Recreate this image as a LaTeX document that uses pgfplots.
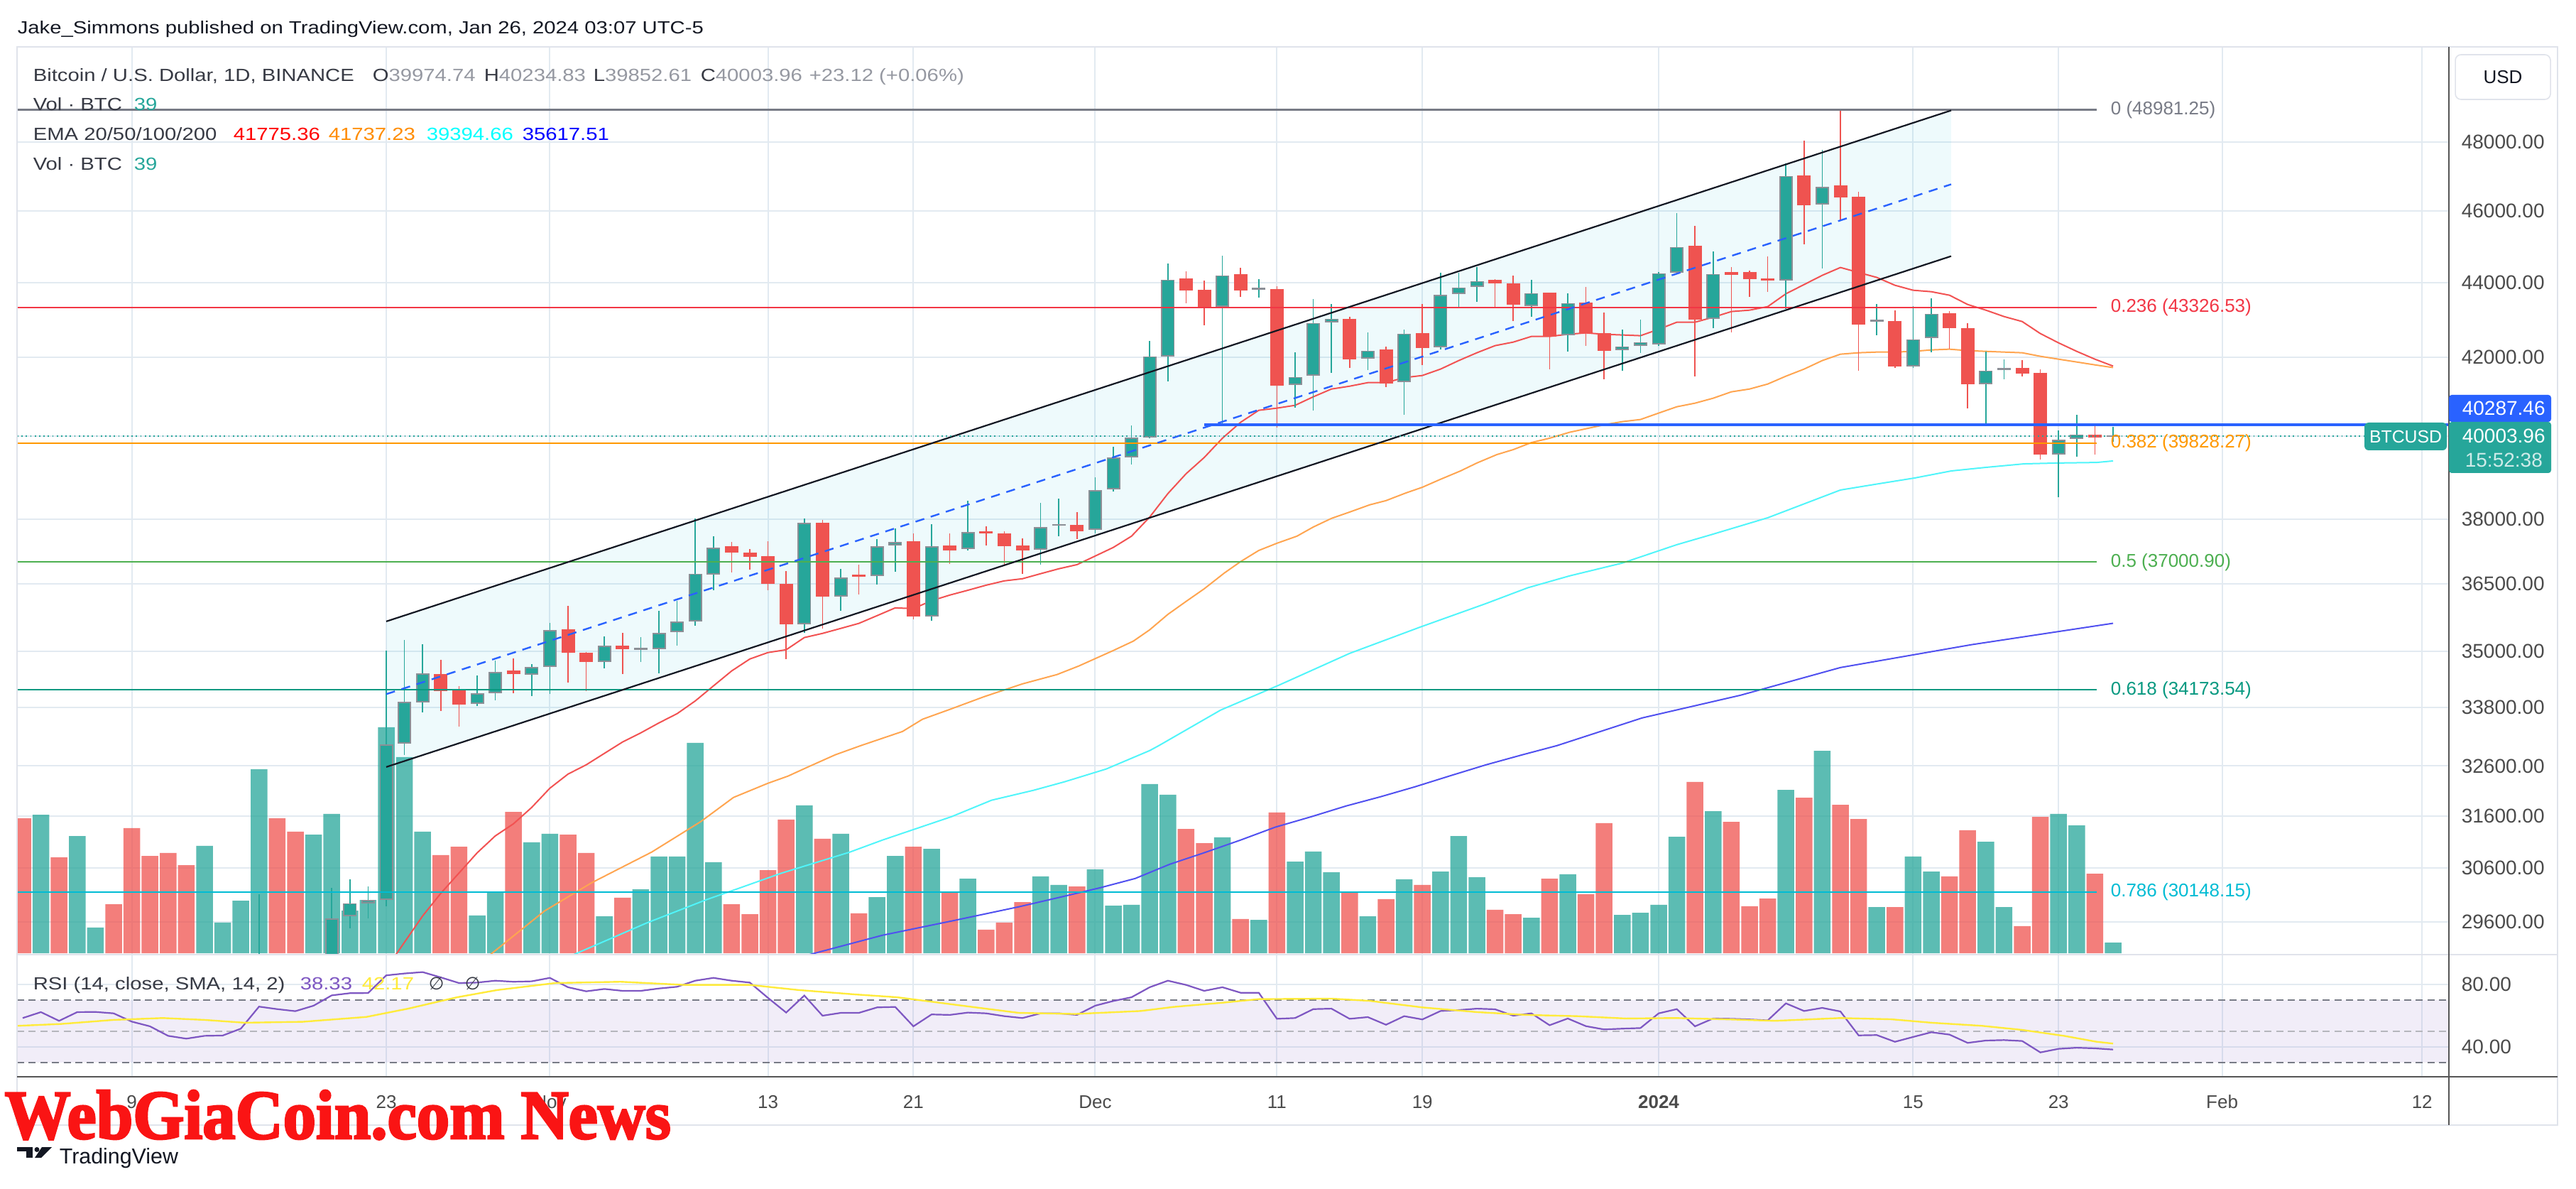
\documentclass[border=0pt]{standalone}
\usepackage{fontspec}
\setmainfont{Liberation Sans}
\newfontfamily\tvfont{Liberation Sans}[FakeStretch=1.18]
\newfontfamily\dejavu{DejaVu Sans}
\newfontfamily\wmfont{Liberation Serif Bold}[FakeBold=3]
\usepackage{graphicx}
\usepackage{pgfplots}
\pgfplotsset{compat=1.18}
\newcommand\fsz[1]{\fontsize{#1}{#1}\selectfont}
\definecolor{tvgreen}{RGB}{38,166,154}
\definecolor{tvred}{RGB}{239,83,80}
\definecolor{bordgray}{RGB}{140,143,150}
\definecolor{gridc}{RGB}{226,234,241}
\definecolor{framec}{RGB}{224,227,235}
\definecolor{dark}{RGB}{19,23,34}
\definecolor{txt}{RGB}{55,58,68}
\definecolor{valgray}{RGB}{149,152,161}
\definecolor{axtxt}{RGB}{75,75,75}
\definecolor{ema20}{RGB}{242,82,82}
\definecolor{ema50}{RGB}{255,165,80}
\definecolor{ema100}{RGB}{80,245,250}
\definecolor{ema200}{RGB}{80,80,240}
\definecolor{fib0}{RGB}{120,123,134}
\definecolor{fib1}{RGB}{242,54,69}
\definecolor{fib2}{RGB}{255,152,0}
\definecolor{fib3}{RGB}{76,175,80}
\definecolor{fib4}{RGB}{8,153,129}
\definecolor{fib5}{RGB}{0,188,212}
\definecolor{tvblue}{RGB}{41,98,255}
\definecolor{rsiline}{RGB}{126,87,194}
\definecolor{rsisma}{RGB}{255,235,59}
\definecolor{wmred}{RGB}{250,20,20}
\definecolor{chfill}{RGB}{0,188,212}
\definecolor{darkline}{RGB}{85,85,85}

\newcommand\cG[5]{%
  \addplot[tvgreen, line width=0.4pt] coordinates {(#1,#4) (#1,#3)};
  \addplot[bordgray, line width=4.75pt] coordinates {(#1,#2) (#1,#5)};
  \addplot[tvgreen, line width=3.85pt, shorten <=0.45pt, shorten >=0.45pt] coordinates {(#1,#2) (#1,#5)};
}
\newcommand\cR[5]{%
  \addplot[tvred, line width=0.4pt] coordinates {(#1,#4) (#1,#3)};
  \addplot[tvred, line width=4.75pt] coordinates {(#1,#2) (#1,#5)};
}
\newcommand\cN[5]{%
  \addplot[tvgreen, line width=0.4pt] coordinates {(#1,#4) (#1,#3)};
  \addplot[only marks, mark=-, mark size=2.375pt, mark options={draw=bordgray, line width=0.6pt}] coordinates {(#1,#5)};
}

\pgfplotsset{
  base/.style={scale only axis, width=856.25pt, xmin=-90.3125, xmax=43.4766,
    enlargelimits=false, axis line style={draw=none}, tick style={draw=none},
    major tick length=0pt,
    xtick={-84,-70,-61,-49,-41,-31,-21,-13,0,14,22,31,42}, xticklabels={}},
}

\begin{document}
\begin{tikzpicture}
\fill[white] (0,0) rectangle (907pt,418.25pt);

% ---------- grid of price pane
\begin{axis}[ymode=log, base, at={(6pt,82.25pt)}, anchor=south west, height=319.5pt,
  ymin=29005, ymax=50930,
  ytick={29600,30600,31600,32600,33800,35000,36500,38000,40000,42000,44000,46000,48000},
  yticklabels={}, xmajorgrids, ymajorgrids, major grid style={gridc, line width=0.5pt}]
\addplot[draw=none] coordinates {(0,40000)};
\end{axis}

% ---------- volume
\begin{axis}[base, at={(6pt,82.25pt)}, anchor=south west, height=319.5pt,
  ymin=-5.2, ymax=3317.6, hide axis]
\addplot[ybar, bar width=5.875pt, bar shift=0pt, draw=none, fill=tvgreen, fill opacity=0.75] coordinates {
(-89,507) (-87,429) (-86,94) (-80,393) (-79,112) (-78,192) (-77,673) (-74,434) (-73,510) (-72,156)
(-71,195) (-70,827) (-69,718) (-68,445) (-65,138) (-64,226) (-62,406) (-61,437) (-58,135) (-56,234)
(-55,354) (-54,354) (-53,770) (-52,333) (-47,541) (-45,437) (-43,205) (-42,356) (-40,382) (-38,273)
(-34,281) (-33,250) (-31,307) (-30,174) (-29,177) (-28,619) (-27,580) (-24,424) (-22,122) (-20,335)
(-19,372) (-18,296) (-16,135) (-14,270) (-12,299) (-11,429) (-10,278) (-7,130) (-5,289) (-2,140)
(-1,148) (0,177) (1,426) (3,520) (7,598) (9,741) (12,169) (14,354) (15,299) (18,408)
(19,169) (22,510) (23,468) (25,39)};
\addplot[ybar, bar width=5.875pt, bar shift=0pt, draw=none, fill=tvred, fill opacity=0.75] coordinates {
(-90,494) (-88,351) (-85,179) (-84,458) (-83,356) (-82,367) (-81,322) (-76,494) (-75,445) (-67,359)
(-66,390) (-63,517) (-60,434) (-59,367) (-57,203) (-51,179) (-50,143) (-49,304) (-48,489) (-46,419)
(-44,146) (-41,390) (-39,221) (-37,86) (-36,112) (-35,187) (-32,244) (-26,455) (-25,403) (-23,125)
(-21,515) (-17,221) (-15,198) (-13,250) (-9,159) (-8,143) (-6,273) (-4,216) (-3,476) (2,627)
(4,481) (5,172) (6,200) (8,569) (10,543) (11,491) (13,169) (16,281) (17,450) (20,99)
(21,499) (24,291)};
\end{axis}

% ---------- price pane
\begin{axis}[ymode=log, base, at={(6pt,82.25pt)}, anchor=south west, height=319.5pt,
  ymin=29005, ymax=50930,
  ytick={29600,30600,31600,32600,33800,35000,36500,38000,40000,42000,44000,46000,48000},
  yticklabels={29600.00,30600.00,31600.00,32600.00,33800.00,35000.00,36500.00,38000.00,40000.00,42000.00,44000.00,46000.00,48000.00},
  yticklabel pos=right,
  yticklabel style={anchor=west, inner sep=0pt, xshift=4.25pt, font=\fsz{7pt}, text=axtxt}]
% channel fill
\addplot[draw=none, fill=chfill, fill opacity=0.065] coordinates {(-70,35661) (16.09,48955) (16.09,44723) (-70,32582)};
% EMAs
\addplot[ema200, line width=0.5pt] coordinates {(-48,28890) (-42.7,29352) (-38.9,29611) (-35.2,29874) (-32.7,30071) (-30.7,30231) (-28.8,30404) (-26.9,30673) (-24.9,30904) (-23,31137) (-21.1,31384) (-19.1,31592) (-17.2,31802) (-15.3,31985) (-13.4,32183) (-11.4,32410) (-9.5,32625) (-7.5,32826) (-5.6,33015) (-0.9,33587) (4.5,34064) (10,34654) (17.2,35147) (25,35618)};
\addplot[ema100, line width=0.5pt] coordinates {(-62,28675) (-55.7,29572) (-52.4,30005) (-50.5,30231) (-48.3,30498) (-46.4,30700) (-44.5,30904) (-42.7,31137) (-41.2,31315) (-38.9,31592) (-36.7,31915) (-34.4,32112) (-32.7,32282) (-30.4,32539) (-28,32914) (-27.5,33015) (-24.1,33750) (-20.9,34275) (-17,34961) (-13.1,35536) (-9.5,36056) (-7.2,36411) (-4.9,36681) (-2,36973) (1,37398) (2.9,37630) (6,38030) (10,38689) (12.1,38843) (14.1,38980) (16.1,39152) (18,39239) (20.1,39325) (22,39342) (24.1,39360) (25,39395)};
\addplot[ema50, line width=0.5pt] coordinates {(-66,28550) (-61.3,29795) (-58.7,30324) (-55.4,30904) (-52.7,31495) (-50.9,31971) (-49,32254) (-47.9,32396) (-46.8,32582) (-45.3,32826) (-43.9,33015) (-41.6,33307) (-40.5,33557) (-39,33765) (-37.1,34034) (-35,34305) (-33.1,34502) (-31.9,34685) (-30,35023) (-28.9,35225) (-28,35473) (-27,35819) (-26,36104) (-25,36391) (-23.9,36746) (-23,37006) (-22,37267) (-21,37432) (-19.9,37597) (-19,37813) (-18,38013) (-17,38165) (-15.9,38333) (-15,38435) (-13.9,38621) (-13,38758) (-12,38946) (-10.9,39152) (-10,39342) (-8.9,39551) (-8,39673) (-7,39848) (-6,39954) (-4.9,40095) (-4,40183) (-2.9,40290) (-2,40361) (-1,40414) (0,40575) (1,40736) (2,40826) (3,40952) (4,41114) (5,41186) (6,41314) (7,41515) (8,41698) (9,41919) (10,42086) (11,42123) (12,42141) (13,42141) (14,42160) (15,42197) (16,42216) (17,42179) (18,42160) (19,42141) (20,42123) (21,42030) (22,41956) (23,41882) (24,41808) (25,41737)};
\addplot[ema20, line width=0.5pt] coordinates {(-70,28750) (-68,29703) (-67,30125) (-66,30505) (-65,30890) (-64,31219) (-63,31453) (-62,31774) (-61,32154) (-60,32439) (-59,32625) (-58,32856) (-57,33088) (-56,33278) (-55,33484) (-54,33676) (-53,33944) (-52,34260) (-51,34578) (-50,34838) (-49,34977) (-48,35038) (-47,35302) (-46,35395) (-45,35505) (-44,35614) (-43,35788) (-42,35961) (-41,35946) (-40,36120) (-39,36247) (-38,36359) (-37,36472) (-36,36568) (-35,36617) (-34,36729) (-33,36843) (-32,36941) (-31,37136) (-30,37333) (-29,37597) (-28,38047) (-27,38604) (-26,39084) (-25,39481) (-24,39954) (-23,40343) (-22,40646) (-21,40700) (-20,40772) (-19,40988) (-18,41186) (-17,41259) (-16,41350) (-15,41350) (-14,41478) (-13,41533) (-12,41698) (-11,41919) (-10,42123) (-9,42309) (-8,42402) (-7,42552) (-6,42552) (-5,42608) (-4,42646) (-3,42608) (-2,42590) (-1,42571) (0,42740) (1,42929) (2,42929) (3,43061) (4,43213) (5,43251) (6,43346) (7,43691) (8,43943) (9,44195) (10,44410) (11,44273) (12,44137) (13,43923) (14,43788) (15,43749) (16,43653) (17,43403) (18,43251) (19,43080) (20,42947) (21,42627) (22,42383) (23,42160) (24,41956) (25,41775)};
% candles: day / open / high / low / close
\cG{-77}{27154}{30110}{27113}{28500}
\cG{-73}{28720}{30231}{28600}{29664}
\cG{-72}{29703}{30391}{29481}{29940}
\cG{-71}{29940}{30258}{29664}{30006}
\cG{-70}{30006}{35023}{29887}{33044}
\cG{-69}{33059}{35256}{32827}{33929}
\cG{-68}{33914}{35163}{33706}{34532}
\cR{-67}{34517}{34822}{33735}{34154}
\cR{-66}{34169}{34259}{33410}{33869}
\cG{-65}{33884}{34487}{33839}{34109}
\cG{-64}{34109}{34807}{33960}{34563}
\cR{-63}{34593}{34853}{34109}{34517}
\cG{-62}{34502}{34730}{34049}{34669}
\cG{-61}{34669}{35630}{34094}{35473}
\cR{-60}{35489}{36008}{34335}{34977}
\cR{-59}{34977}{34992}{34154}{34776}
\cG{-58}{34776}{35333}{34639}{35131}
\cR{-57}{35131}{35410}{34517}{35054}
\cN{-56}{35054}{35318}{34776}{35054}
\cG{-55}{35054}{35898}{34532}{35410}
\cG{-54}{35426}{36120}{35131}{35662}
\cG{-53}{35662}{38013}{35567}{36729}
\cG{-52}{36713}{37597}{36359}{37333}
\cR{-51}{37366}{37464}{36762}{37218}
\cR{-50}{37218}{37300}{36827}{37120}
\cR{-49}{37136}{37481}{36359}{36504}
\cR{-48}{36504}{36794}{34838}{35599}
\cG{-47}{35599}{38013}{35410}{37913}
\cR{-46}{37913}{37979}{35504}{36215}
\cG{-45}{36215}{36843}{35898}{36648}
\cR{-44}{36714}{36941}{36263}{36665}
\cG{-43}{36681}{37531}{36488}{37366}
\cG{-42}{37382}{37779}{36778}{37465}
\cR{-41}{37481}{37663}{35709}{35772}
\cG{-40}{35772}{37879}{35677}{37366}
\cR{-39}{37382}{37663}{36957}{37267}
\cG{-38}{37300}{38434}{37267}{37697}
\cR{-37}{37713}{37829}{37382}{37663}
\cR{-36}{37663}{37713}{36925}{37366}
\cR{-35}{37382}{37547}{36729}{37267}
\cG{-34}{37283}{38384}{36941}{37813}
\cN{-33}{37863}{38485}{37597}{37863}
\cR{-32}{37863}{38164}{37531}{37713}
\cG{-31}{37746}{38998}{37663}{38689}
\cG{-30}{38706}{39743}{38655}{39481}
\cG{-29}{39481}{40272}{39308}{39971}
\cG{-28}{39971}{42439}{39950}{42030}
\cG{-27}{42030}{44527}{41387}{44078}
\cR{-26}{44117}{44312}{43442}{43787}
\cR{-25}{43807}{44059}{42853}{43308}
\cG{-24}{43346}{44743}{40272}{44195}
\cR{-23}{44234}{44410}{43614}{43787}
\cN{-22}{43826}{44098}{43595}{43826}
\cR{-21}{43826}{43904}{40219}{41277}
\cG{-20}{41296}{42141}{40718}{41497}
\cG{-19}{41533}{43557}{40646}{42910}
\cG{-18}{42929}{43422}{41606}{43023}
\cR{-17}{43023}{43080}{41735}{41956}
\cG{-16}{41974}{42665}{41680}{42179}
\cR{-15}{42216}{42290}{41241}{41332}
\cG{-14}{41369}{42739}{40539}{42627}
\cR{-13}{42646}{43422}{41808}{42253}
\cG{-12}{42272}{44273}{42216}{43672}
\cG{-11}{43691}{44273}{43308}{43865}
\cG{-10}{43884}{44429}{43480}{44039}
\cR{-9}{44078}{44098}{43327}{43981}
\cR{-8}{43981}{44195}{42966}{43403}
\cG{-7}{43365}{44078}{43080}{43710}
\cR{-6}{43729}{43729}{41698}{42552}
\cG{-5}{42589}{43710}{42160}{43442}
\cR{-4}{43461}{43884}{42309}{42646}
\cR{-3}{42646}{43194}{41442}{42179}
\cG{-2}{42197}{42739}{41661}{42290}
\cG{-1}{42309}{43004}{42123}{42402}
\cG{0}{42346}{44292}{42300}{44253}
\cG{1}{44273}{45941}{44253}{44981}
\cR{2}{45020}{45578}{41515}{43004}
\cG{3}{43023}{44862}{42777}{44234}
\cR{4}{44292}{44429}{42665}{44214}
\cR{5}{44292}{44331}{43614}{44098}
\cR{6}{44117}{44723}{43749}{44059}
\cG{7}{44059}{47380}{43288}{47006}
\cR{8}{47027}{48043}{45059}{46164}
\cG{9}{46185}{47779}{44390}{46696}
\cR{10}{46737}{48981}{45720}{46389}
\cR{11}{46410}{46553}{41661}{42872}
\cN{12}{42966}{43423}{42589}{42966}
\cR{13}{42966}{43251}{41735}{41772}
\cG{14}{41772}{43365}{41735}{42477}
\cG{15}{42514}{43576}{42141}{43156}
\cR{16}{43175}{43232}{42234}{42777}
\cR{17}{42777}{42910}{40700}{41314}
\cG{18}{41314}{42160}{40272}{41661}
\cN{19}{41698}{41956}{41442}{41698}
\cR{20}{41735}{41937}{41515}{41588}
\cR{21}{41606}{41698}{39430}{39551}
\cG{22}{39551}{40148}{38519}{39919}
\cG{23}{39936}{40539}{39499}{40042}
\cR{24}{40042}{40290}{39551}{39971}
\cN{25}{39974.74}{40234.83}{39852.61}{40003.96}
% fibonacci levels
\addplot[fib0, line width=0.75pt] coordinates {(-90.3125,48981.25) (24.1,48981.25)};
\addplot[fib1, line width=0.5pt] coordinates {(-90.3125,43326.53) (24.1,43326.53)};
\addplot[fib2, line width=0.5pt] coordinates {(-90.3125,39828.27) (24.1,39828.27)};
\addplot[fib3, line width=0.5pt] coordinates {(-90.3125,37000.90) (24.1,37000.90)};
\addplot[fib4, line width=0.5pt] coordinates {(-90.3125,34173.54) (24.1,34173.54)};
\addplot[fib5, line width=0.5pt] coordinates {(-90.3125,30148.15) (24.1,30148.15)};
% channel
\addplot[dark, line width=0.55pt] coordinates {(-70,35661) (16.09,48955)};
\addplot[dark, line width=0.55pt] coordinates {(-70,32582) (16.09,44723)};
\addplot[tvblue, line width=0.6pt, dash pattern=on 3.2pt off 2.4pt] coordinates {(-70,34086) (16.09,46761)};
% horizontal level and last price line
\addplot[tvblue, line width=1pt] coordinates {(-25,40287.46) (43.4766,40287.46)};
\addplot[tvgreen, line width=0.4pt, dash pattern=on 0.45pt off 1.1pt] coordinates {(-90.3125,40003.96) (38.83,40003.96)};
\end{axis}

% ---------- RSI pane
\begin{axis}[base, at={(6pt,39.25pt)}, anchor=south west, height=43pt, ymin=20.91, ymax=99.09,
  ytick={40,80}, yticklabels={40.00,80.00}, yticklabel pos=right,
  yticklabel style={anchor=west, inner sep=0pt, xshift=4.25pt, font=\fsz{7pt}, text=axtxt},
  xticklabels={9,23,Nov,13,21,Dec,11,19,{\bfseries 2024},15,23,Feb,12},
  xticklabel style={anchor=base, inner sep=0pt, yshift=-11pt, font=\fsz{6.5pt}, text=axtxt},
  xmajorgrids, ymajorgrids, major grid style={gridc, line width=0.5pt}]
\addplot[draw=none, fill=rsiline, fill opacity=0.1] coordinates {(-90.3125,30) (43.4766,30) (43.4766,70) (-90.3125,70)};
\addplot[fib0, line width=0.5pt, dash pattern=on 2.5pt off 1.6pt] coordinates {(-90.3125,70) (43.4766,70)};
\addplot[fib0!55, line width=0.5pt, dash pattern=on 2.5pt off 1.6pt] coordinates {(-90.3125,50) (43.4766,50)};
\addplot[fib0, line width=0.5pt, dash pattern=on 2.5pt off 1.6pt] coordinates {(-90.3125,30) (43.4766,30)};
\addplot[rsiline, line width=0.55pt] coordinates {(-90,58.5) (-89,62.3) (-88,56.7) (-87,62.3) (-86,62.4) (-85,61.5) (-84,56.2) (-83,53.2) (-82,47.1) (-81,45.3) (-80,47.1) (-79,47.3) (-78,51.7) (-77,65.8) (-76,64.2) (-75,62.9) (-74,66.4) (-73,73.0) (-72,74.4) (-71,74.5) (-70,85.8) (-69,87.0) (-68,87.9) (-67,84.5) (-66,80.9) (-65,81.2) (-64,82.4) (-63,81.7) (-62,82.0) (-61,84.2) (-60,78.2) (-59,75.6) (-58,77.1) (-57,75.9) (-56,75.9) (-55,77.4) (-54,78.5) (-53,82.4) (-52,84.2) (-51,82.4) (-50,81.2) (-49,71.4) (-48,62.0) (-47,72.9) (-46,60.0) (-45,61.8) (-44,61.8) (-43,65.3) (-42,65.6) (-41,53.2) (-40,60.8) (-39,60.5) (-38,62.0) (-37,61.5) (-36,59.7) (-35,58.5) (-34,61.5) (-33,61.5) (-32,60.5) (-31,66.4) (-30,69.4) (-29,71.8) (-28,78.2) (-27,82.4) (-26,79.7) (-25,75.9) (-24,78.2) (-23,74.7) (-22,74.7) (-21,58.0) (-20,58.5) (-19,64.2) (-18,64.5) (-17,58.0) (-16,59.1) (-15,54.2) (-14,59.7) (-13,57.6) (-12,63.0) (-11,63.6) (-10,64.5) (-9,64.1) (-8,60.0) (-7,61.5) (-6,53.9) (-5,58.2) (-4,53.3) (-3,51.2) (-2,51.7) (-1,52.1) (0,61.5) (1,64.2) (2,53.2) (3,58.2) (4,58.0) (5,57.6) (6,57.0) (7,67.9) (8,63.0) (9,65.0) (10,62.7) (11,47.4) (12,47.6) (13,43.3) (14,46.4) (15,49.4) (16,47.9) (17,42.6) (18,44.1) (19,44.4) (20,43.8) (21,36.5) (22,38.8) (23,39.5) (24,39.1) (25,38.33)};
\addplot[rsisma, line width=0.6pt] coordinates {(-90.3,53.5) (-87.9,54.7) (-85,57.3) (-82.3,58.5) (-80,57.3) (-77.8,55.5) (-74.6,56.1) (-71.1,59.2) (-68.8,64.5) (-66.1,71.8) (-63.9,76.4) (-60.7,80.9) (-57.1,81.7) (-53.6,79.7) (-50,79.7) (-47.3,76.4) (-44.2,73.6) (-41.9,71.8) (-38.3,66.4) (-35.2,61.8) (-32.1,61.1) (-28.5,63.0) (-26.7,65.6) (-24,68.3) (-22,70.6) (-18,70.9) (-15.9,69.5) (-13,65.3) (-10,62.3) (-7.3,60.5) (-4.5,59.7) (-1.8,58.2) (0.9,58.5) (3.7,57.7) (6.4,56.7) (10,58.5) (12.8,57.7) (15,55.5) (17.8,53.5) (20,50.9) (22.3,47.1) (24.1,43.3) (25,42.17)};
\end{axis}

% ---------- frame, labels, tags (pixel coordinates, origin top-left)
\begin{scope}[x=0.25pt,y=-0.25pt,yshift=418.25pt]
\draw[framec, line width=0.5pt] (24,66) rectangle (3602,1584);
\draw[framec, line width=0.5pt] (24,1344) -- (3602,1344);
\draw[darkline, line width=0.6pt] (24,1516) -- (3602,1516);
\draw[darkline, line width=0.5pt] (3449,66) -- (3449,1584);
% watermark (over the time labels, as in the reference)
\node[anchor=base west, inner sep=0pt, text=wmred] at (6,1603) {\resizebox{234.5pt}{17pt}{\wmfont WebGiaCoin.com News}};
% header
\node[anchor=base west, inner sep=0pt, text=dark, font=\tvfont\fsz{6.2pt}] at (24,48) {Jake\_Simmons published on TradingView.com, Jan 26, 2024 03:07 UTC-5};
% legend
\begin{scope}[every node/.style={anchor=base west, inner sep=0pt, font=\tvfont\fsz{6.2pt}}]
\node[text=txt] at (46,115) {Bitcoin / U.S. Dollar, 1D, BINANCE};
\node at (524,115) {\textcolor{txt}{O}\textcolor{valgray}{39974.74}};
\node at (681,115) {\textcolor{txt}{H}\textcolor{valgray}{40234.83}};
\node at (835,115) {\textcolor{txt}{L}\textcolor{valgray}{39852.61}};
\node at (986,115) {\textcolor{txt}{C}\textcolor{valgray}{40003.96}};
\node[text=valgray] at (1139,115) {+23.12 (+0.06\%)};
\node[text=txt] at (46,156) {Vol · BTC};
\node[text=tvgreen] at (188,156) {39};
\node[text=txt] at (46,198) {EMA 20/50/100/200};
\node[text={rgb,255:red,255;green,0;blue,0}] at (328,198) {41775.36};
\node[text={rgb,255:red,255;green,140;blue,0}] at (462,198) {41737.23};
\node[text={rgb,255:red,0;green,255;blue,255}] at (600,198) {39394.66};
\node[text={rgb,255:red,0;green,0;blue,255}] at (735,198) {35617.51};
\node[text=txt] at (46,240) {Vol · BTC};
\node[text=tvgreen] at (188,240) {39};
% RSI legend
\node[text=txt] at (46,1393) {RSI (14, close, SMA, 14, 2)};
\node[text=rsiline] at (422,1393) {38.33};
\node[text=rsisma] at (509,1393) {42.17};
\node[text=txt] at (603,1393) {\dejavu ∅};
\node[text=txt] at (654,1393) {\dejavu ∅};
\end{scope}
% fib labels
\begin{scope}[every node/.style={anchor=west, inner sep=0pt, font=\fsz{6.5pt}}]
\node[text=fib0] at (2972,154.6) {0 (48981.25)};
\node[text=fib1] at (2972,433) {0.236 (43326.53)};
\node[text=fib2] at (2972,624.1) {0.382 (39828.27)};
\node[text=fib3] at (2972,791.3) {0.5 (37000.90)};
\node[text=fib4] at (2972,971.8) {0.618 (34173.54)};
\node[text=fib5] at (2972,1256.2) {0.786 (30148.15)};
\end{scope}
% price scale tags
\draw[framec, fill=white, rounded corners=2pt, line width=0.4pt] (3458,77) rectangle (3592,140);
\node[inner sep=0pt, text=dark, font=\fsz{6.5pt}] at (3525,108.5) {USD};
\fill[tvblue, rounded corners=1pt] (3449,556) rectangle (3593,594);
\node[anchor=west, inner sep=0pt, text=white, font=\fsz{7pt}] at (3467,575) {40287.46};
\fill[tvgreen, rounded corners=1pt] (3449,594) rectangle (3593,666);
\node[anchor=west, inner sep=0pt, text=white, font=\fsz{7pt}] at (3467,614) {40003.96};
\node[anchor=west, inner sep=0pt, text=white!78!tvgreen, font=\fsz{7pt}] at (3471,648) {15:52:38};
\fill[tvgreen, rounded corners=1.5pt] (3330,595) rectangle (3446,634);
\node[inner sep=0pt, text=white, font=\fsz{6.2pt}] at (3388,614.5) {BTCUSD};
% TradingView logo
\fill[dark] (24,1615) rectangle (46,1621);
\fill[dark] (37,1615) rectangle (46,1630);
\fill[dark] (52,1618.5) circle (3.5);
\fill[dark] (59,1615) -- (73,1615) -- (58,1630) -- (49,1630) -- cycle;
\node[anchor=base west, inner sep=0pt, text=dark, font=\fsz{7.6pt}] at (83,1638) {TradingView};
\end{scope}

\pgfresetboundingbox
\useasboundingbox (0,0) rectangle (907pt,418.25pt);
\end{tikzpicture}
\end{document}
